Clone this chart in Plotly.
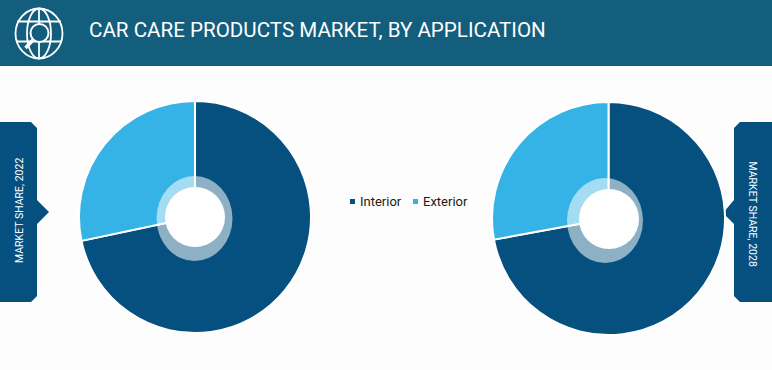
import plotly.graph_objects as go

W, H = 772, 370
TITLE = "CAR CARE PRODUCTS MARKET, BY APPLICATION"
labels = ["Interior", "Exterior"]
values_2022 = [71.7, 28.3]
values_2028 = [72.1, 27.9]
tab_left = "MARKET SHARE, 2022"
tab_right = "MARKET SHARE, 2028"

NAVY = "#05507F"
SKY = "#35B2E6"
HEAD = "#135E7C"
BG = "#FDFDFD"
FONT = "Roboto"


def px(x):
    return x / W


def py(y):
    return 1 - y / H


def poly(points):
    return "M " + " L ".join(f"{px(x)} {py(y)}" for x, y in points) + " Z"


def rect(x0, y0, x1, y1, color, layer="below"):
    return dict(type="rect", xref="paper", yref="paper", x0=px(x0), x1=px(x1), y0=py(y0), y1=py(y1),
                fillcolor=color, line_width=0, layer=layer)


def ell(cx, cy, rx, ry, fill="rgba(0,0,0,0)", line=None, lw=0, layer="above"):
    return dict(type="circle", xref="paper", yref="paper", x0=px(cx - rx), x1=px(cx + rx),
                y0=py(cy + ry), y1=py(cy - ry), fillcolor=fill, layer=layer,
                line=dict(color=line or "rgba(0,0,0,0)", width=lw))


def seg(x0, y0, x1, y1, lw=1.8):
    return dict(type="line", xref="paper", yref="paper", x0=px(x0), x1=px(x1), y0=py(y0), y1=py(y1),
                line=dict(color="white", width=lw), layer="above")


def pie(values, cx, cy, r, name):
    return go.Pie(labels=labels, values=values, name=name, sort=False, direction="clockwise", rotation=0,
                  hole=26 / r, textinfo="none", showlegend=False,
                  marker=dict(colors=[NAVY, SKY], line=dict(color="white", width=2)),
                  domain=dict(x=[px(cx - r), px(cx + r)], y=[py(cy + r), py(cy - r)]))


fig = go.Figure([pie(values_2022, 195, 217, 116, "2022"), pie(values_2028, 608.5, 218.5, 116.5, "2028")])

shapes = [
    rect(0, 0, W, 66, HEAD),
    dict(type="path", xref="paper", yref="paper", layer="below", fillcolor=NAVY, line_width=0,
         path=poly([(0, 122), (31, 122), (37, 128), (37, 200), (49, 212), (37, 224), (37, 296), (31, 302), (0, 302)])),
    dict(type="path", xref="paper", yref="paper", layer="below", fillcolor=NAVY, line_width=0,
         path=poly([(772, 122), (740, 122), (734, 128), (734, 200), (723, 213), (734, 224), (734, 296), (740, 302), (772, 302)])),
    # translucent rings around the holes
    ell(194.5, 218.5, 38, 42.5, "rgba(255,255,255,0.55)"),
    ell(195, 217, 30, 30, "white"),
    ell(605, 220.5, 38, 42.5, "rgba(255,255,255,0.55)"),
    ell(609, 219, 30, 30, "white"),
    # globe icon
    ell(39, 33.5, 23.5, 25, line="white", lw=1.8),
    ell(39, 33.5, 12, 25, line="white", lw=1.8),
    seg(39, 9, 39, 58),
    seg(17, 21.5, 61, 21.5),
    seg(17, 41.5, 61, 41.5),
    ell(39.5, 33, 9, 9, fill=HEAD, line="white", lw=2),
    seg(33, 40, 25.5, 48, 3.5),
    # legend squares
    rect(350, 199, 355, 204, NAVY, "above"),
    rect(413, 199, 418, 204, SKY, "above"),
]

ann = [
    dict(x=px(87), y=py(30), text=TITLE, xanchor="left", font=dict(size=20.6, color="white", family=FONT)),
    dict(x=px(358), y=py(201.5), text=labels[0], xanchor="left", font=dict(size=13, color="#1a1a1a", family=FONT)),
    dict(x=px(421), y=py(201.5), text=labels[1], xanchor="left", font=dict(size=13, color="#1a1a1a", family=FONT)),
    dict(x=px(19.5), y=py(210.5), text=tab_left, textangle=-90, font=dict(size=10.5, color="white", family=FONT)),
    dict(x=px(752.5), y=py(214), text=tab_right, textangle=90, font=dict(size=10.5, color="white", family=FONT)),
]
for a in ann:
    a.update(xref="paper", yref="paper", showarrow=False, yanchor="middle")
    a.setdefault("xanchor", "center")

fig.update_layout(width=W, height=H, margin=dict(l=0, r=0, t=0, b=0), autosize=False,
                  paper_bgcolor=BG, plot_bgcolor=BG, shapes=shapes, annotations=ann)
fig.write_html("out.html", post_script="document.body.style.margin='0';document.body.style.overflow='hidden';",
               config=dict(displayModeBar=False))
